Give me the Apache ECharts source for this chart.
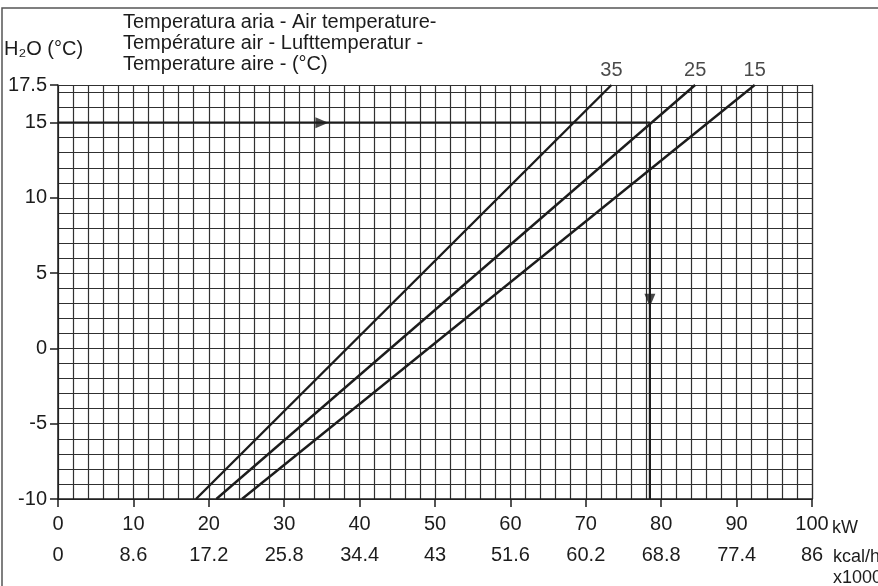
<!DOCTYPE html>
<html>
<head>
<meta charset="utf-8">
<script src="https://cdn.jsdelivr.net/npm/echarts@6/dist/echarts.min.js"></script>
<style>
  html, body { margin: 0; padding: 0; background: #fff; }
  #main { width: 878px; height: 586px; }
</style>
</head>
<body>
<div id="main"></div>
<script>
// curva potenza / temperatura acqua
const airTemps = ['35', '25', '15'];
// each line: [kW, H2O °C] at bottom and top of the plot
const line35 = [[18.3, -10], [73.4, 17.5]];
const line25 = [[21.0, -10], [84.5, 17.5]];
const line15 = [[24.4, -10], [92.4, 17.5]];
const airLines = [line35, line25, line15];

// example reading: water 15 °C, air 25 °C
const readH2O = 15;
const readKW = 78.5;
const arrowRight = [[35, 15]];
const arrowDown = [[78.5, 3.2]];

const kcalLabels = ['0', '8.6', '17.2', '25.8', '34.4', '43', '51.6', '60.2', '68.8', '77.4', '86'];

const FONT = 'Liberation Sans, Arial, sans-serif';
const FS = 20;
const INK = '#1c1c1c';
const GRID = '#303030';

const chart = echarts.init(document.getElementById('main'), null, { renderer: 'canvas' });

const lineSeries = airLines.map((pts) => ({
  type: 'line',
  xAxisIndex: 0,
  yAxisIndex: 0,
  symbol: 'none',
  silent: true,
  lineStyle: { color: INK, width: 2.4 },
  data: pts,
  z: 5
}));

// air temperature names at the top end of each line
const lineTags = {
  type: 'scatter', xAxisIndex: 0, yAxisIndex: 0, silent: true,
  symbolSize: 1, itemStyle: { color: 'transparent' },
  label: { show: true, position: 'top', distance: 4, fontFamily: FONT, fontSize: FS, color: INK,
    formatter: (p) => airTemps[p.dataIndex] },
  data: airLines.map(pts => pts[pts.length - 1]),
  z: 8
};

const option = {
  backgroundColor: '#fff',
  animation: false,
  grid: { left: 58, right: 66, top: 85, bottom: 87 },
  xAxis: [
    { // kW
      type: 'value', position: 'bottom', min: 0, max: 100, interval: 10,
      axisLine: { show: true, onZero: false, lineStyle: { color: INK, width: 1.5 } },
      axisTick: { show: true, length: 8, lineStyle: { color: INK, width: 1.5 } },
      axisLabel: { margin: 15, fontFamily: FONT, fontSize: FS, color: INK },
      splitLine: { show: false }
    },
    { // kcal/h x1000
      type: 'value', position: 'bottom', offset: 31, min: 0, max: 100, interval: 10,
      axisLine: { show: false, onZero: false }, axisTick: { show: false },
      axisLabel: { margin: 15, fontFamily: FONT, fontSize: FS, color: INK,
        formatter: (v, i) => kcalLabels[i] },
      splitLine: { show: false }
    },
    { // grid every 2 kW
      type: 'value', position: 'top', min: 0, max: 100, interval: 2,
      axisLine: { show: true, onZero: false, lineStyle: { color: GRID, width: 1.2 } },
      axisTick: { show: false }, axisLabel: { show: false },
      splitLine: { show: true, lineStyle: { color: GRID, width: 1.2 } }
    }
  ],
  yAxis: [
    { // H2O °C
      type: 'value', position: 'left', min: -10, max: 17.5, interval: 5,
      axisLine: { show: true, onZero: false, lineStyle: { color: INK, width: 1.5 } },
      axisTick: { show: true, length: 8, lineStyle: { color: INK, width: 1.5 } },
      axisLabel: { margin: 11, fontFamily: FONT, fontSize: FS, color: INK },
      splitLine: { show: false }
    },
    { // grid every 1 °C
      type: 'value', position: 'right', min: -10, max: 17.5, interval: 1,
      axisLine: { show: true, onZero: false, lineStyle: { color: GRID, width: 1.2 } },
      axisTick: { show: false }, axisLabel: { show: false },
      splitLine: { show: true, lineStyle: { color: GRID, width: 1.2 } }
    }
  ],
  series: [
    ...lineSeries,
    lineTags,
    { // reading: water temp -> power
      type: 'line', xAxisIndex: 0, yAxisIndex: 0, symbol: 'none', silent: true,
      lineStyle: { color: INK, width: 2.2 },
      data: [[0, readH2O], [readKW, readH2O], [readKW, -10]],
      z: 6
    },
    {
      type: 'scatter', xAxisIndex: 0, yAxisIndex: 0, silent: true,
      symbol: 'triangle', symbolSize: [11, 13], symbolRotate: -90,
      itemStyle: { color: INK }, data: arrowRight, z: 7
    },
    {
      type: 'scatter', xAxisIndex: 0, yAxisIndex: 0, silent: true,
      symbol: 'triangle', symbolSize: [11, 13], symbolRotate: 180,
      itemStyle: { color: INK }, data: arrowDown, z: 7
    }
  ],
  graphic: [
    { type: 'rect', shape: { x: 2, y: 8, width: 900, height: 600 }, silent: true,
      style: { fill: 'none', stroke: '#555', lineWidth: 1.5 }, z: -1 },
    { type: 'text', left: 4, top: 39, silent: true,
      style: { text: 'H₂O (°C)', font: FS + 'px ' + FONT, fill: INK } },
    { type: 'text', left: 123, top: 12, silent: true,
      style: { text: 'Temperatura aria - Air temperature-\nTempérature air - Lufttemperatur -\nTemperature aire - (°C)',
        font: FS + 'px ' + FONT, fill: INK, lineHeight: 21 } },
    { type: 'text', left: 832, top: 519, silent: true,
      style: { text: 'kW', font: '18px ' + FONT, fill: INK } },
    { type: 'text', left: 833, top: 547, silent: true,
      style: { text: 'kcal/h\nx1000', font: '18px ' + FONT, fill: INK, lineHeight: 21 } }
  ]
};

chart.setOption(option);
</script>
</body>
</html>
